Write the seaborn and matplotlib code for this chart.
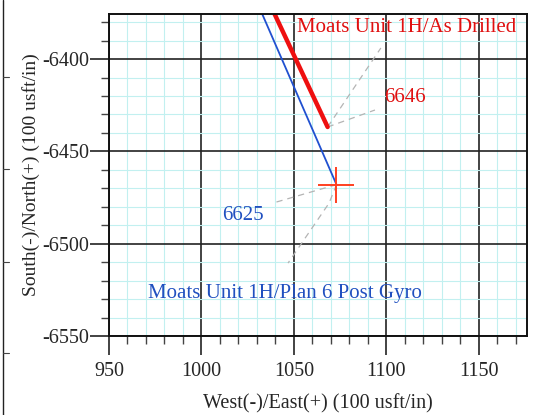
import seaborn as sns
import matplotlib.pyplot as plt
from matplotlib.lines import Line2D
from matplotlib.ticker import MultipleLocator

# well paths (East, North) in usft
plan_east = [1030.4, 1073.0]
plan_north = [-6370.0, -6468.0]
drilled_east = [1036.9, 1068.2]
drilled_north = [-6370.0, -6436.8]

# target crosshair
target_east = 1073.0
target_north = -6468.0

# leader lines for the depth labels
leader_6646 = [([1068.2, 1097.0], [-6436.8, -6394.0]),
               ([1068.2, 1093.8], [-6436.8, -6427.6])]
leader_6625 = [([1073.0, 1038.6], [-6468.0, -6478.0]),
               ([1073.0, 1069.0, 1046.8], [-6468.0, -6478.0, -6510.5])]

sns.set_style("white")
plt.rcParams['font.family'] = ['Liberation Serif', 'DejaVu Serif']
plt.rcParams['axes.unicode_minus'] = False

fig = plt.figure(figsize=(5.34, 4.15), dpi=100)
ax = fig.add_axes([109 / 534, 1 - 336 / 415, (527 - 109) / 534, (336 - 14) / 415])

# grid
ax.xaxis.set_major_locator(MultipleLocator(50))
ax.yaxis.set_major_locator(MultipleLocator(50))
ax.xaxis.set_minor_locator(MultipleLocator(10))
ax.yaxis.set_minor_locator(MultipleLocator(10))
ax.grid(which='minor', color='#c2f0f0', linewidth=0.8)
ax.grid(which='major', color='#222222', linewidth=1.2)
ax.set_axisbelow(True)

for xs, ys in leader_6646 + leader_6625:
    ax.plot(xs, ys, color='#b4b4b4', linestyle=(0, (5, 4)), linewidth=0.9)

sns.lineplot(x=plan_east, y=plan_north, ax=ax, color='#2050d0', linewidth=1.3,
             sort=False, estimator=None)
sns.lineplot(x=drilled_east, y=drilled_north, ax=ax, color='#ee1010', linewidth=3.2,
             sort=False, estimator=None)
ax.plot([target_east], [target_north], marker='+', markersize=26,
        markeredgewidth=1.4, color='#ff4020', linestyle='none')

ax.text(1051.5, -6383, 'Moats Unit 1H/As Drilled', color='#e01010', fontsize=15,
        ha='left', va='center')
ax.text(1099, -6421, '6646', color='#e01010', fontsize=15, ha='left', va='center')
ax.text(1011, -6485, '6625', color='#2050c0', fontsize=15, ha='left', va='center')
ax.text(971, -6527, 'Moats Unit 1H/Plan 6 Post Gyro', color='#2050c0', fontsize=15,
        ha='left', va='center')

ax.set_xlim(950, 1176)
ax.set_ylim(-6550, -6375.6)

for s in ax.spines.values():
    s.set_color('#111111')
    s.set_linewidth(1.4)

ax.tick_params(which='major', direction='out', length=14, width=1.2, color='#222222',
               labelsize=14.5, pad=5, left=True, bottom=True)
ax.tick_params(which='minor', direction='out', length=6, width=1.0, color='#444444',
               left=True, bottom=True)
ax.tick_params(axis='y', which='major', pad=0)

ax.set_xlabel('West(-)/East(+) (100 usft/in)', fontsize=14.5, labelpad=9)
ax.set_ylabel('South(-)/North(+) (100 usft/in)', fontsize=14, labelpad=2)

# page border on the left
fig.add_artist(Line2D([3 / 534, 3 / 534], [0, 1], color='#222222', linewidth=1.0))
for py in [77, 169, 262, 353]:
    fig.add_artist(Line2D([3 / 534, 9 / 534], [1 - py / 415, 1 - py / 415],
                          color='#444444', linewidth=0.8))

fig.savefig('out.png', dpi=100)
